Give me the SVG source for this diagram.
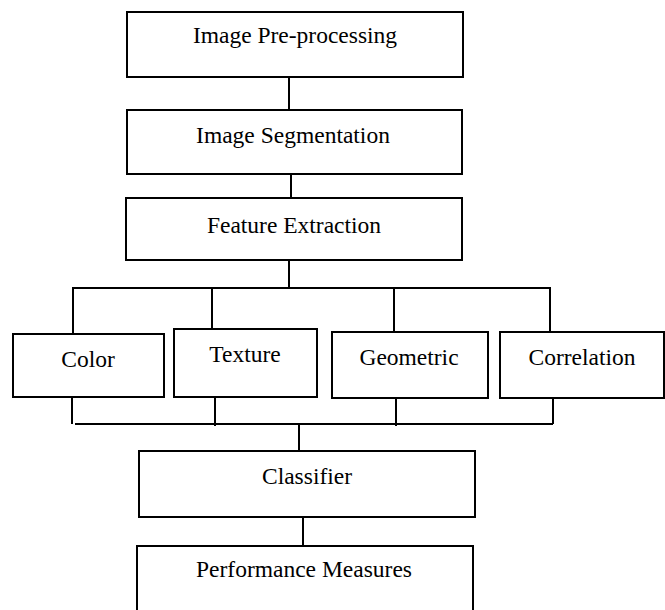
<svg xmlns="http://www.w3.org/2000/svg" width="665" height="610" viewBox="0 0 665 610">
<style>
.box{fill:#fff;stroke:#000;stroke-width:2}
.lbl{font-family:"Liberation Serif","Times New Roman",serif;font-size:23.5px;fill:#000;text-anchor:middle}
.conn line{stroke:#000;stroke-width:2}
</style>
<rect width="665" height="610" fill="#fff"/>
<g id="connectors" class="conn">
<line x1="289" y1="77" x2="289" y2="110"/>
<line x1="291" y1="174" x2="291" y2="198"/>
<line x1="289" y1="260" x2="289" y2="288"/>
<line x1="72" y1="288" x2="551" y2="288"/>
<line x1="73" y1="288" x2="73" y2="333"/>
<line x1="212" y1="288" x2="212" y2="328"/>
<line x1="394" y1="288" x2="394" y2="332"/>
<line x1="550" y1="288" x2="550" y2="332"/>
<line x1="72" y1="397" x2="72" y2="424"/>
<line x1="215" y1="397" x2="215" y2="426"/>
<line x1="396" y1="398" x2="396" y2="426"/>
<line x1="553" y1="398" x2="553" y2="424"/>
<line x1="75" y1="424" x2="553" y2="424"/>
<line x1="299" y1="424" x2="299" y2="451"/>
<line x1="303" y1="517" x2="303" y2="546"/>
</g>
<g id="n1"><rect class="box" x="127" y="12" width="336" height="65"/><text class="lbl" x="295" y="43">Image Pre-processing</text></g>
<g id="n2"><rect class="box" x="127" y="110" width="335" height="64"/><text class="lbl" x="293" y="143">Image Segmentation</text></g>
<g id="n3"><rect class="box" x="126" y="198" width="336" height="62"/><text class="lbl" x="294" y="233">Feature Extraction</text></g>
<g id="n4"><rect class="box" x="13" y="334" width="151" height="63"/><text class="lbl" x="88" y="367">Color</text></g>
<g id="n5"><rect class="box" x="174" y="329" width="143" height="68"/><text class="lbl" x="245" y="362">Texture</text></g>
<g id="n6"><rect class="box" x="332" y="332" width="156" height="66"/><text class="lbl" x="409" y="365">Geometric</text></g>
<g id="n7"><rect class="box" x="500" y="332" width="164" height="66"/><text class="lbl" x="582" y="365">Correlation</text></g>
<g id="n8"><rect class="box" x="139" y="451" width="336" height="66"/><text class="lbl" x="307" y="484">Classifier</text></g>
<g id="n9"><path d="M137 611 V546 H473 V611" fill="#fff" stroke="#000" stroke-width="2"/><text class="lbl" x="304" y="577">Performance Measures</text></g>
</svg>
